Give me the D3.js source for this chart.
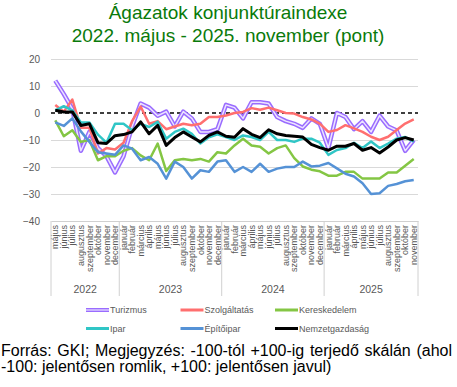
<!DOCTYPE html>
<html>
<head>
<meta charset="utf-8">
<script src="https://cdn.jsdelivr.net/npm/d3@7"></script>
<style>
body { margin: 0; background: #fff; }
text { font-family: "Liberation Sans", Arial, sans-serif; }
</style>
</head>
<body>
<div id="chart"></div>
<script>
// categories: 2022. május - 2025. november
let months = ['május','június','július','augusztus','szeptember','október','november','december',
  'január','február','március','április','május','június','július','augusztus','szeptember','október','november','december',
  'január','február','március','április','május','június','július','augusztus','szeptember','október','november','december',
  'január','február','március','április','május','június','július','augusztus','szeptember','október','november'];
let years = ['2022','2023','2024','2025'];
let yearStarts = [0, 8, 20, 32, 43];
let yTicks = [20, 10, 0, -10, -20, -30, -40];

// series values (pont)
let turizmus = [12, 7, 1.5, -14, -7, -13, -16, -22, -16, -5, 3.5, 2, -1, 0.5, -5, 0.5, -2, -7, -7, -6, 3, 2, -2, 4, 4, 3.5, -1.5, -3, -4, -5.5, -2, -4, -13, 0, -1.5, -6, -3, -7, -1, -5, -6.5, -14, -10];
let szolgaltatas = [3, 0.5, 5, -5.5, -5.5, -15, -13, -13.5, -11, -3, 2.4, -4, -3, -6, -5, -4, -4.5, -4, -1.5, -1.5, -0.9, 0, 0.4, 1.8, 1.2, 2, 1, 0, -0.2, -1.5, -2.4, -3.9, -7, -6.3, -4.5, -5.7, -7, -8.8, -10, -8.8, -6.3, -3.9, -2.4];
let kereskedelem = [-2.7, -8.6, -6.4, -10.7, -10, -17.5, -16, -16, -14, -13, -15.7, -17.5, -11.3, -21.5, -17.5, -17, -17.5, -17, -18, -14.5, -15, -12, -9.5, -12, -12.5, -15, -13, -12, -16.7, -19.8, -21, -21.6, -23.2, -23.2, -21.8, -21.8, -24.3, -24.3, -24.3, -22, -22, -19.5, -17];
let ipar = [1, 2.5, 1, -3.5, -3.5, -8, -11, -4, -4, -6.4, -4, -5.2, -3.3, -9.5, -7, -5.8, -7.7, -11.3, -9, -7.9, -8.9, -10, -8.3, -8.9, -10, -7, -10, -10, -10.7, -9.5, -9.5, -11, -15.5, -13.7, -13, -11, -13, -10.6, -13, -11.3, -9.5, -8.9, -10.6];
let epitoipar = [-3.5, -4.8, -2, -6.8, -10.7, -14.5, -15, -15.5, -12, -13.2, -17.5, -16.3, -18.8, -24.3, -18, -20, -24.3, -21.2, -21.8, -18, -17.5, -21.8, -20, -21.8, -18.8, -21.8, -20.6, -20, -20, -18, -19.8, -19.5, -18.5, -20.5, -22.5, -23.5, -26, -30, -29.7, -27, -26.3, -25.3, -24.8];
let nemzetgazdasag = [1, 0.4, 0.4, -4.6, -4, -11, -11.3, -8.4, -8, -7, -3.3, -7.7, -4.6, -12, -9.1, -7, -8.9, -10.7, -8.3, -7, -8.6, -9, -5.8, -7.9, -9.1, -6.2, -7.7, -8.3, -8.6, -8.9, -11.6, -12.8, -13.8, -12.3, -12.3, -11.3, -13.8, -12.8, -14.8, -12.6, -10, -9.1, -10];

let seriesNames = ['Turizmus','Szolgáltatás','Kereskedelem','Ipar','Építőipar','Nemzetgazdaság'];
let seriesValues = [turizmus, szolgaltatas, kereskedelem, ipar, epitoipar, nemzetgazdasag];
let seriesColors = ['#9a6cff','#ff6f6f','#84c644','#30c6c6','#5592d6','#000000'];

let svgWidth = 457;
let svgHeight = 387;
let margin = {top: 59, left: 51};
let chartWidth = 367;
let chartHeight = 162;

let svg = d3.select('#chart').append('svg')
  .attr('width', svgWidth)
  .attr('height', svgHeight);

// title
let title = svg.append('text')
  .attr('text-anchor', 'middle')
  .attr('fill', '#0a7a0a')
  .style('font-size', '19px');
title.append('tspan').attr('x', 228).attr('y', 19).text('Ágazatok konjunktúraindexe');
title.append('tspan').attr('x', 228).attr('y', 41.5).text('2022. május - 2025. november (pont)');

let g = svg.append('g').attr('transform', `translate(${margin.left},${margin.top})`);

let x = d3.scaleBand().domain(d3.range(months.length)).range([0, chartWidth]);
let y = d3.scaleLinear().domain([-40, 20]).range([chartHeight, 0]);
let cx = i => x(i) + x.bandwidth() / 2;

// gridlines
g.append('g')
  .call(d3.axisLeft(y).tickValues(yTicks.filter(d => d !== 0 && d !== -40)).tickSize(-chartWidth).tickFormat(''))
  .call(a => a.select('.domain').remove())
  .selectAll('line').attr('stroke', '#d9d9d9');

// y labels
g.append('g')
  .call(d3.axisLeft(y).tickValues(yTicks).tickSize(0).tickPadding(11).tickFormat(d3.format('d')))
  .call(a => a.select('.domain').remove())
  .selectAll('text')
  .attr('fill', '#595959')
  .style('font-size', '10px');

// x axis with month names
let xAxis = g.append('g')
  .attr('transform', `translate(0,${chartHeight})`)
  .call(d3.axisBottom(x).tickSize(0).tickFormat(i => months[i]));
xAxis.select('.domain').attr('stroke', '#d0d0d0');
xAxis.selectAll('text')
  .attr('transform', 'rotate(-90)')
  .attr('text-anchor', 'end')
  .attr('x', -4)
  .attr('y', 0)
  .attr('dy', '0.35em')
  .attr('fill', '#595959')
  .style('font-size', '9px');

// year separators and labels
let xPos = i => i >= months.length ? chartWidth : x(i);
g.selectAll('.sep').data(yearStarts).enter().append('line')
  .attr('x1', d => xPos(d)).attr('x2', d => xPos(d))
  .attr('y1', chartHeight).attr('y2', chartHeight + 75)
  .attr('stroke', '#d0d0d0');
g.selectAll('.year').data(years).enter().append('text')
  .attr('x', (d, i) => (xPos(yearStarts[i]) + xPos(yearStarts[i + 1])) / 2)
  .attr('y', chartHeight + 72)
  .attr('text-anchor', 'middle')
  .attr('fill', '#595959')
  .style('font-size', '10.5px')
  .text(d => d);

// zero line
g.append('line')
  .attr('x1', 0).attr('x2', chartWidth)
  .attr('y1', y(0)).attr('y2', y(0))
  .attr('stroke', '#000')
  .attr('stroke-width', 1.3)
  .attr('stroke-dasharray', '4,3');

// lines
let line = d3.line().x((d, i) => cx(i)).y(d => y(d));
seriesValues.forEach((vals, k) => {
  if (k === 0) {
    g.append('path').attr('d', line(vals)).attr('fill', 'none')
      .attr('stroke', seriesColors[0]).attr('stroke-width', 4.5).attr('stroke-linejoin', 'round');
    g.append('path').attr('d', line(vals)).attr('fill', 'none')
      .attr('stroke', '#ece4ff').attr('stroke-width', 1.5).attr('stroke-linejoin', 'round');
  } else {
    g.append('path').attr('d', line(vals)).attr('fill', 'none')
      .attr('stroke', seriesColors[k])
      .attr('stroke-width', k === 5 ? 3 : 2.5)
      .attr('stroke-linejoin', 'round');
  }
});

// legend
let legend = svg.append('g');
seriesNames.forEach((name, i) => {
  let lx = 86 + (i % 3) * 94.5;
  let ly = 310 + Math.floor(i / 3) * 18.5;
  if (i === 0) {
    legend.append('line').attr('x1', lx).attr('x2', lx + 23).attr('y1', ly).attr('y2', ly)
      .attr('stroke', seriesColors[0]).attr('stroke-width', 4);
    legend.append('line').attr('x1', lx).attr('x2', lx + 23).attr('y1', ly).attr('y2', ly)
      .attr('stroke', '#ece4ff').attr('stroke-width', 1.2);
  } else {
    legend.append('line').attr('x1', lx).attr('x2', lx + 23).attr('y1', ly).attr('y2', ly)
      .attr('stroke', seriesColors[i]).attr('stroke-width', 3);
  }
  legend.append('text')
    .attr('x', lx + 24).attr('y', ly + 3)
    .attr('fill', '#595959')
    .style('font-size', '9px')
    .text(name);
});

// footnote
let note1 = svg.append('text')
  .attr('x', 1).attr('y', 356)
  .attr('fill', '#000')
  .style('font-size', '16px')
  .text('Forrás: GKI; Megjegyzés: -100-tól +100-ig terjedő skálán (ahol');
let w = note1.node().getComputedTextLength();
let spaces = note1.text().split(' ').length - 1;
note1.style('word-spacing', ((451 - w) / spaces) + 'px');
svg.append('text')
  .attr('x', 1).attr('y', 372)
  .attr('fill', '#000')
  .style('font-size', '16px')
  .text('-100: jelentősen romlik, +100: jelentősen javul)');
</script>
</body>
</html>
